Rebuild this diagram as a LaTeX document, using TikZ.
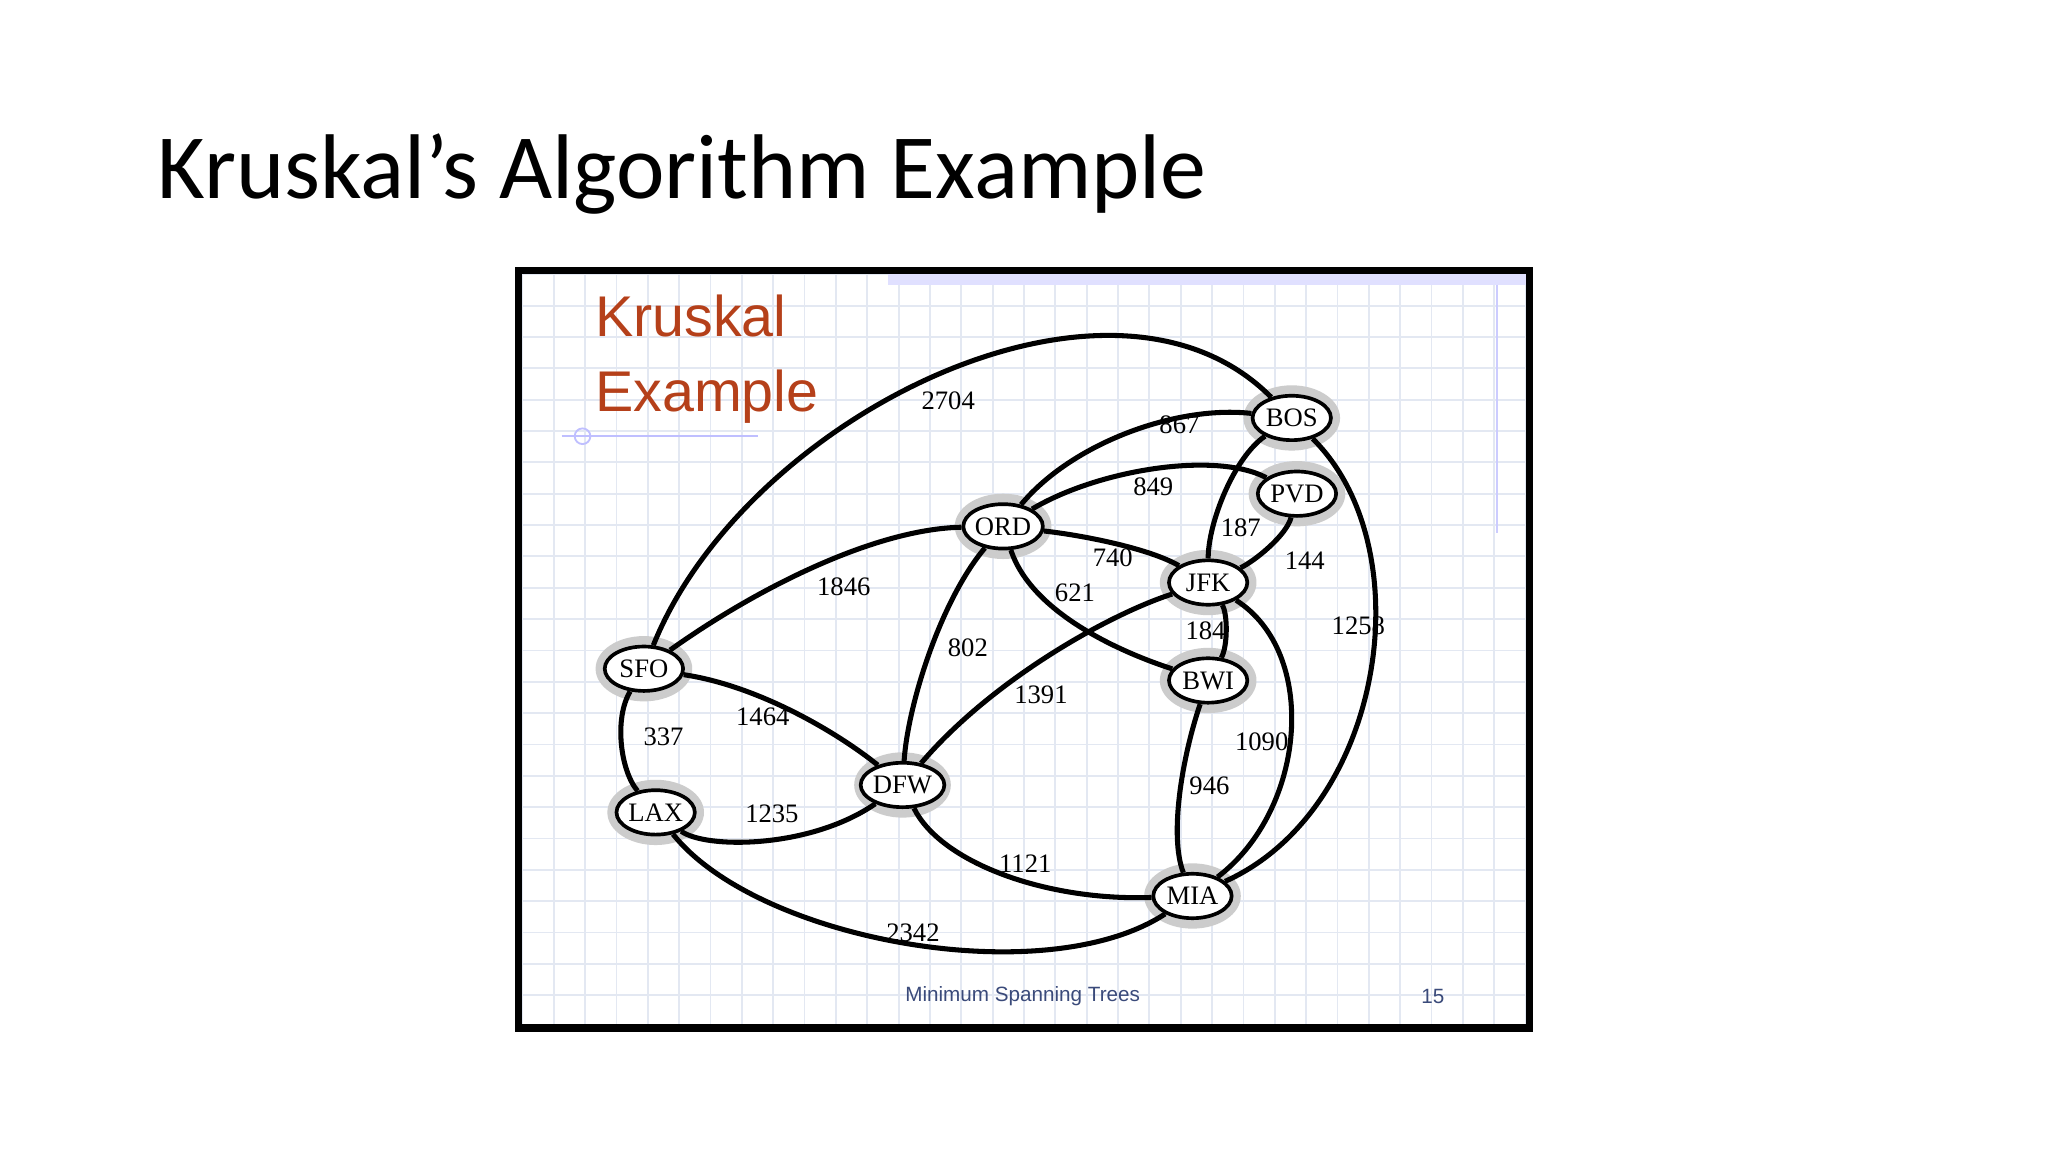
\documentclass[tikz,border=0pt]{standalone}
\usepackage{fontspec}
\setmainfont{Liberation Serif}
\newfontfamily\titlefont{Carlito}
\newfontfamily\sansf{Liberation Sans}
\newfontfamily\footf{Liberation Sans}
\definecolor{krred}{HTML}{B5401A}
\definecolor{gridc}{HTML}{E3E8F2}
\definecolor{footc}{HTML}{3A4A7A}
\usetikzlibrary{shapes.geometric}
\newlength{\pxu}
\setlength{\pxu}{0.01cm}
\tikzset{
 city/.style={ellipse,draw,thick,fill=white,inner sep=0pt,minimum width=60\pxu,minimum height=34\pxu,font=\fontsize{5.8}{7}\selectfont},
 halo/.style={ellipse,fill=gray!40,minimum width=74\pxu,minimum height=50\pxu},
 edge/.style={line width=1.1pt},
 wt/.style={font=\fontsize{5.8}{7}\selectfont}
}
\begin{document}
\begin{tikzpicture}[x=0.01cm,y=-0.01cm]
\useasboundingbox (0,0) rectangle (1568,882);
\fill[white] (0,0) rectangle (1568,882);
\node[anchor=base west,font=\titlefont\fontsize{20}{24}\selectfont,inner sep=0] (title) at (120,152) {Kruskal’s Algorithm Example};
\begin{scope}
\clip (398,208) rectangle (1170,786);
\foreach \x in {400,424,...,1170} \draw[gridc,line width=0.4pt] (\x,208) -- (\x,786);
\foreach \y in {210,234,...,786} \draw[gridc,line width=0.4pt] (398,\y) -- (1170,\y);
\fill[blue!12] (680,210) rectangle (1168,218);
\draw[blue!20] (1146,218) -- (1146,408);
\draw[blue!25] (430,334) -- (580,334);
\draw[blue!25] (446,334) circle (6);
\end{scope}
\draw[line width=1.6pt] (397,207) rectangle (1171,787);
\node[anchor=base west,text=krred,font=\sansf\fontsize{12.5}{15}\selectfont,inner sep=0] (k1) at (455,258) {Kruskal};
\node[anchor=base west,text=krred,font=\sansf\fontsize{12.5}{15}\selectfont,inner sep=0] (k2) at (455,315) {Example};
\foreach \p in {(989,320),(993,378),(768,403),(925,446),(925,521),(493,512),(691,601),(502,622),(913,686)}
  \node[halo] at \p {};
\node[city] (BOS) at (989,320) {BOS};
\node[city] (PVD) at (993,378) {PVD};
\node[city] (ORD) at (768,403) {ORD};
\node[city] (JFK) at (925,446) {JFK};
\node[city] (BWI) at (925,521) {BWI};
\node[city] (SFO) at (493,512) {SFO};
\node[city] (DFW) at (691,601) {DFW};
\node[city] (LAX) at (502,622) {LAX};
\node[city] (MIA) at (913,686) {MIA};
\begin{scope}[edge]
\draw (SFO) .. controls (570,320) and (850,180) .. (BOS);
\draw (ORD) .. controls (820,340) and (900,310) .. (BOS);
\draw (ORD) .. controls (840,360) and (930,345) .. (PVD);
\draw (BOS) .. controls (945,350) and (925,400) .. (JFK);
\draw (PVD) .. controls (985,410) and (960,430) .. (JFK);
\draw (ORD) .. controls (830,410) and (880,420) .. (JFK);
\draw (ORD) .. controls (790,470) and (860,500) .. (BWI);
\draw (SFO) .. controls (580,450) and (670,405) .. (ORD);
\draw (BOS) .. controls (1090,420) and (1060,620) .. (MIA);
\draw (JFK) .. controls (940,470) and (940,495) .. (BWI);
\draw (ORD) .. controls (720,460) and (695,540) .. (DFW);
\draw (DFW) .. controls (760,520) and (850,470) .. (JFK);
\draw (JFK) .. controls (1010,500) and (1000,620) .. (MIA);
\draw (SFO) .. controls (580,525) and (640,560) .. (DFW);
\draw (SFO) .. controls (470,550) and (475,590) .. (LAX);
\draw (BWI) .. controls (905,580) and (895,640) .. (MIA);
\draw (LAX) .. controls (540,650) and (620,650) .. (DFW);
\draw (DFW) .. controls (720,660) and (800,690) .. (MIA);
\draw (LAX) .. controls (580,720) and (800,760) .. (MIA);
\end{scope}
\foreach \t/\x/\y in {2704/726/307,867/903/325,849/883/373,187/950/404,144/999/429,740/852/427,621/823/454,1846/646/449,1258/1040/479,184/923/483,802/741/496,1391/797/532,1090/966/568,1464/584/549,337/508/564,946/926/602,1235/591/623,1121/785/661,2342/699/714}
  \node[wt] (w\t) at (\x,\y) {\t};
\node[text=footc,font=\footf\fontsize{4.5}{5}\selectfont] (foot) at (783,763) {Minimum Spanning Trees};
\node[text=footc,font=\footf\fontsize{4.5}{5}\selectfont] (pg) at (1097,763) {15};
\end{tikzpicture}
\end{document}
